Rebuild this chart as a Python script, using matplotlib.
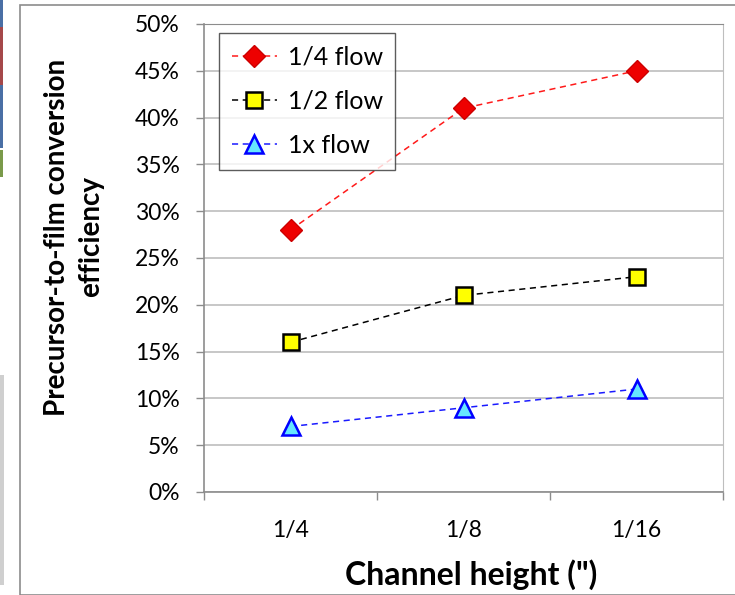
import matplotlib
matplotlib.use("Agg")
import matplotlib.pyplot as plt
from matplotlib.patches import Rectangle
from matplotlib.ticker import PercentFormatter, FixedLocator, NullFormatter

categories = ["1/4", "1/8", "1/16"]
quarter_flow = [28, 41, 45]
half_flow = [16, 21, 23]
full_flow = [7, 9, 11]
series_names = ["1/4 flow", "1/2 flow", "1x flow"]
y_ticks = [0, 5, 10, 15, 20, 25, 30, 35, 40, 45, 50]

FONT = ["Lato", "DejaVu Sans"]
plt.rcParams["font.family"] = FONT

W, H = 735, 595
fig = plt.figure(figsize=(W / 100, H / 100), dpi=100)

# outer chart frame and screenshot artifacts at left edge
fig.patches.append(Rectangle((20 / W, 0), 1.2, (H - 5) / H, transform=fig.transFigure,
                             fill=False, edgecolor="#8c8c8c", lw=1.2, zorder=0))
fig.patches.append(Rectangle((0, (H - 27) / H), 3 / W, 27 / H, transform=fig.transFigure,
                             facecolor="#4a6fa5", edgecolor="none"))
fig.patches.append(Rectangle((0, (H - 85) / H), 3 / W, 58 / H, transform=fig.transFigure,
                             facecolor="#a5484a", edgecolor="none"))
fig.patches.append(Rectangle((0, (H - 148) / H), 3 / W, 63 / H, transform=fig.transFigure,
                             facecolor="#4a6fa5", edgecolor="none"))
fig.patches.append(Rectangle((0, (H - 177) / H), 3 / W, 27 / H, transform=fig.transFigure,
                             facecolor="#7a9a4a", edgecolor="none"))
fig.patches.append(Rectangle((0, (H - 585) / H), 4 / W, 210 / H, transform=fig.transFigure,
                             facecolor="#cfcfcf", edgecolor="none"))

left, right, bottom, top = 204, 723, 492, 24
ax = fig.add_axes([left / W, (H - bottom) / H, (right - left) / W, (bottom - top) / H])

x = list(range(len(categories)))
ax.plot(x, quarter_flow, ls=(0, (4, 3)), color="#ff1a1a", lw=1.1, marker="D", ms=11,
        mfc="#ee0000", mec="#cc0000", mew=1, label=series_names[0], zorder=3)
ax.plot(x, half_flow, ls=(0, (4, 3)), color="black", lw=1.1, marker="s", ms=11,
        mfc="#ffff00", mec="black", mew=1.8, label=series_names[1], zorder=3)
ax.plot(x, full_flow, ls=(0, (4, 3)), color="#1a1aff", lw=1.1, marker="^", ms=13,
        mfc="#66e6ff", mec="#0000ff", mew=1.8, label=series_names[2], zorder=3)

ax.set_xlim(-0.5, len(categories) - 0.5)
ax.set_ylim(0, 50)
ax.yaxis.set_major_locator(FixedLocator(y_ticks))
ax.yaxis.set_major_formatter(PercentFormatter(decimals=0))
ax.grid(axis="y", color="#bebebe", lw=1.2)
ax.set_axisbelow(True)

ax.set_xticks(x)
ax.set_xticklabels(categories)
ax.xaxis.set_minor_locator(FixedLocator([i - 0.5 for i in range(len(categories) + 1)]))
ax.xaxis.set_minor_formatter(NullFormatter())
ax.tick_params(axis="x", which="major", length=0, pad=20, labelsize=16.5)
ax.tick_params(axis="x", which="minor", length=6, color="#8c8c8c", width=1)
ax.tick_params(axis="y", length=5.5, color="#8c8c8c", width=1, pad=12, labelsize=16.5)

for s in ["left", "bottom"]:
    ax.spines[s].set_color("#8c8c8c")
    ax.spines[s].set_linewidth(1.2)
ax.spines["right"].set_color("#bebebe")
ax.spines["top"].set_color("#8c8c8c")

leg = ax.legend(loc="upper left", bbox_to_anchor=((219 - left) / (right - left), 1 - (33 - top) / (bottom - top)),
                prop={"size": 18}, frameon=True, fancybox=False, edgecolor="#333333",
                handlelength=1.8, handletextpad=0.45, labelspacing=0.85, borderpad=0.5,
                borderaxespad=0)
leg.get_frame().set_linewidth(1.0)

fig.text(74 / W, 1 - 237 / H, "Precursor-to-film conversion\nefficiency", rotation=90,
         ha="center", va="center", ma="center", fontsize=20, fontweight="bold",
         linespacing=1.35)
fig.text(471 / W, 1 - 585 / H, 'Channel height (")', ha="center", va="baseline",
         fontsize=23, fontweight="bold")

fig.savefig("out.png", dpi=100)
